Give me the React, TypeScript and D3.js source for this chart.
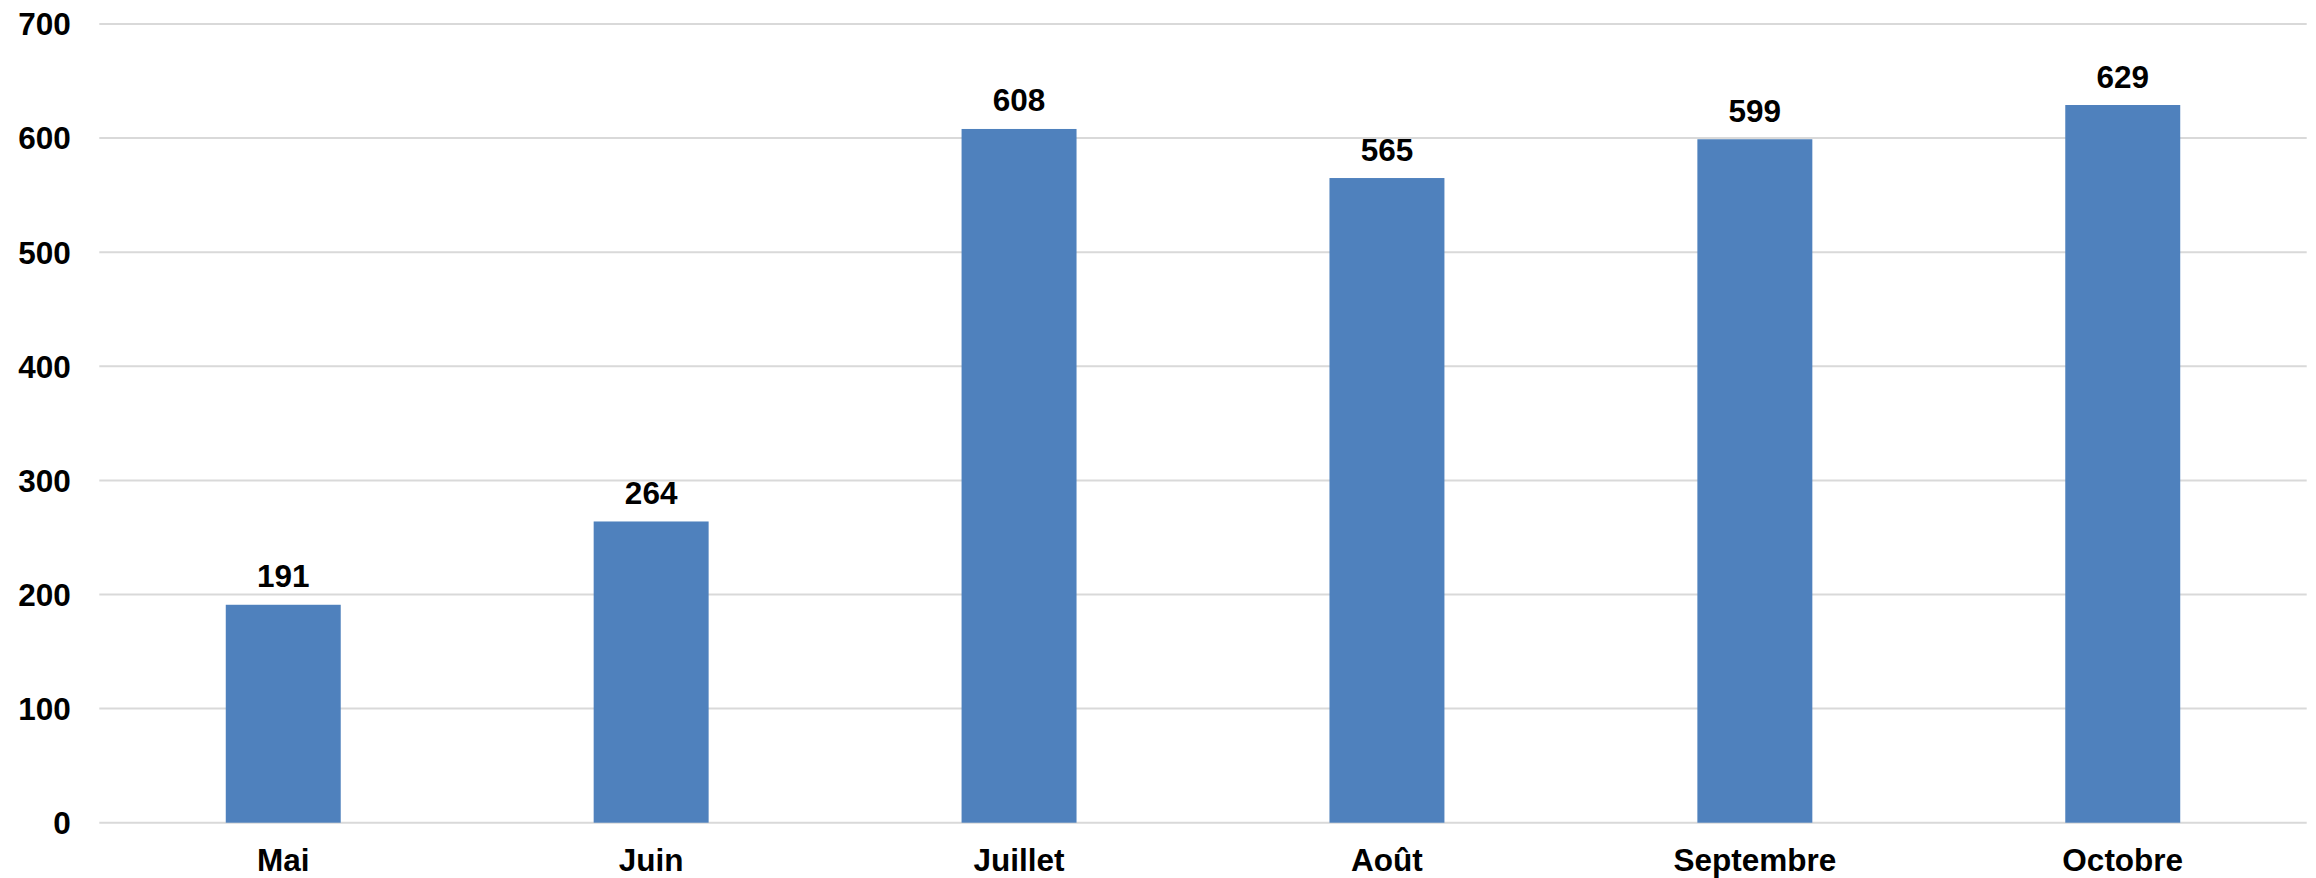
import React from "react";
import * as d3 from "d3";

const categories = ["Mai", "Juin", "Juillet", "Août", "Septembre", "Octobre"];
const values = [191, 264, 608, 565, 599, 629];
const yTicks = [0, 100, 200, 300, 400, 500, 600, 700];

const W = 2316;
const H = 878;
const left = 99.3;
const right = 2306.7;
const top = 24;
const bottom = 822.7;
const font = "'Liberation Sans', Arial, sans-serif";

export default function App() {
  const x = d3.scaleBand<string>().domain(categories).range([left, right]).paddingInner(0.6875).paddingOuter(0.34375);
  const y = d3.scaleLinear().domain([0, 700]).range([bottom, top]);
  return (
    <svg width={W} height={H} style={{ position: "absolute", left: 0, top: 0, background: "#fff" }}>
      {yTicks.map((t) => (
        <g key={t}>
          <line x1={left} x2={right} y1={y(t)} y2={y(t)} stroke="#d9d9d9" strokeWidth={2} />
          <text x={70.7} y={y(t)} dy="0.36em" textAnchor="end" fontFamily={font} fontWeight="bold" fontSize={31.5} fill="#000">
            {t}
          </text>
        </g>
      ))}
      {categories.map((c, i) => (
        <g key={c}>
          <rect x={x(c)} y={y(values[i])} width={x.bandwidth()} height={bottom - y(values[i])} fill="#4f81bd" />
          <text x={(x(c) as number) + x.bandwidth() / 2} y={y(values[i]) - 17.5} textAnchor="middle" fontFamily={font} fontWeight="bold" fontSize={31.5} fill="#000">
            {values[i]}
          </text>
          <text x={(x(c) as number) + x.bandwidth() / 2} y={871} textAnchor="middle" fontFamily={font} fontWeight="bold" fontSize={31.5} fill="#000">
            {c}
          </text>
        </g>
      ))}
    </svg>
  );
}
